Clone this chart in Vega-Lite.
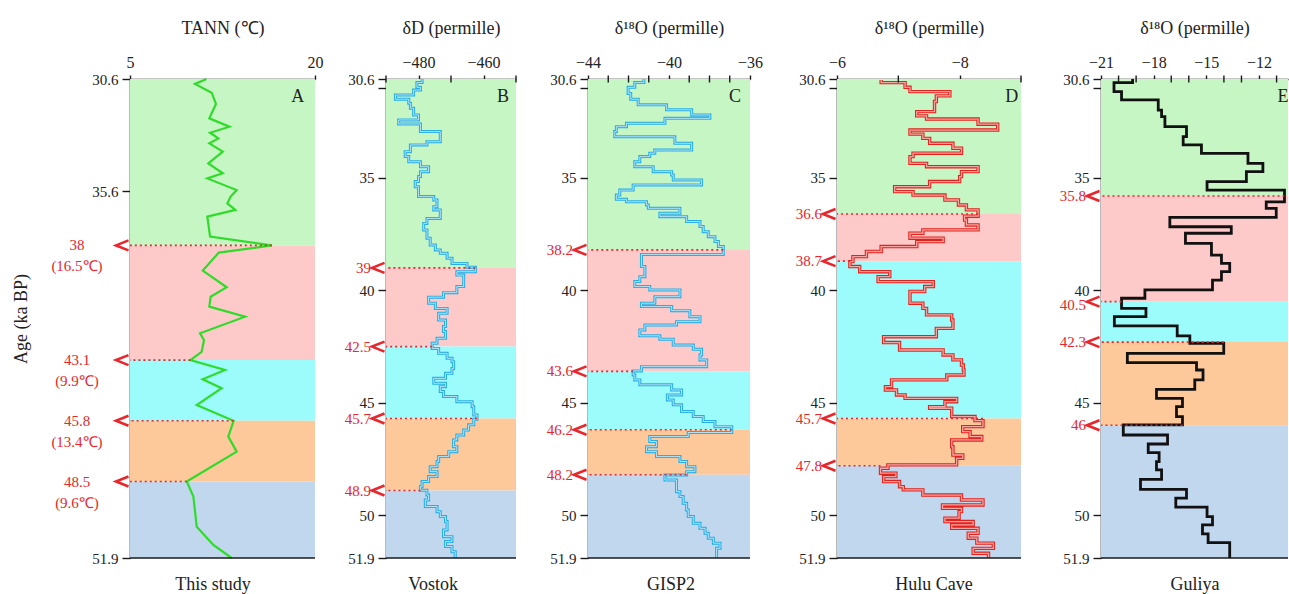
{
"$schema": "https://vega.github.io/schema/vega-lite/v6.json",
"padding": {"left": 12, "top": 19, "right": 0, "bottom": 0},
"background": "white",
"spacing": 0,
"config": {
  "font": "Liberation Serif",
  "view": {"stroke": null},
  "text": {"font": "Liberation Serif"},
  "axis": {"domainColor": "#1a1a1a", "domainWidth": 1.6, "tickColor": "#1a1a1a", "tickWidth": 1.4, "labelFont": "Liberation Serif", "labelFontSize": 16, "labelColor": "#222222", "titleFont": "Liberation Serif", "titleFontSize": 18, "titleFontWeight": "normal", "titleColor": "#222222", "grid": false, "labelFlush": false, "labelOverlap": false, "labelBound": false}
},
"datasets": {
  "bands": [
    {"p":"A","top":30.6,"bot":38,"ph":"g"},{"p":"A","top":38,"bot":43.1,"ph":"p"},{"p":"A","top":43.1,"bot":45.8,"ph":"c"},{"p":"A","top":45.8,"bot":48.5,"ph":"o"},{"p":"A","top":48.5,"bot":51.9,"ph":"b"},
    {"p":"B","top":30.6,"bot":39,"ph":"g"},{"p":"B","top":39,"bot":42.5,"ph":"p"},{"p":"B","top":42.5,"bot":45.7,"ph":"c"},{"p":"B","top":45.7,"bot":48.9,"ph":"o"},{"p":"B","top":48.9,"bot":51.9,"ph":"b"},
    {"p":"C","top":30.6,"bot":38.2,"ph":"g"},{"p":"C","top":38.2,"bot":43.6,"ph":"p"},{"p":"C","top":43.6,"bot":46.2,"ph":"c"},{"p":"C","top":46.2,"bot":48.2,"ph":"o"},{"p":"C","top":48.2,"bot":51.9,"ph":"b"},
    {"p":"D","top":30.6,"bot":36.6,"ph":"g"},{"p":"D","top":36.6,"bot":38.7,"ph":"p"},{"p":"D","top":38.7,"bot":45.7,"ph":"c"},{"p":"D","top":45.7,"bot":47.8,"ph":"o"},{"p":"D","top":47.8,"bot":51.9,"ph":"b"},
    {"p":"E","top":30.6,"bot":35.8,"ph":"g"},{"p":"E","top":35.8,"bot":40.5,"ph":"p"},{"p":"E","top":40.5,"bot":42.3,"ph":"c"},{"p":"E","top":42.3,"bot":46,"ph":"o"},{"p":"E","top":46,"bot":51.9,"ph":"b"}
  ],
  "mt": [
    {"p":"B","t":-490},{"p":"B","t":-470},{"p":"B","t":-450},
    {"p":"C","t":-43},{"p":"C","t":-42},{"p":"C","t":-41},{"p":"C","t":-39},{"p":"C","t":-38},{"p":"C","t":-37},
    {"p":"D","t":-7},{"p":"D","t":-9},
    {"p":"E","t":-20},{"p":"E","t":-19},{"p":"E","t":-17},{"p":"E","t":-16},{"p":"E","t":-14},{"p":"E","t":-13},{"p":"E","t":-11}
  ],
  "bnd": [
    {"p":"A","age":38,"v":16.5,"lab":"38\n(16.5℃)"},{"p":"A","age":43.1,"v":9.9,"lab":"43.1\n(9.9℃)"},{"p":"A","age":45.8,"v":13.4,"lab":"45.8\n(13.4℃)"},{"p":"A","age":48.5,"v":9.6,"lab":"48.5\n(9.6℃)"},
    {"p":"B","age":39,"v":-462.5,"lab":"39"},{"p":"B","age":42.5,"v":-475.8,"lab":"42.5"},{"p":"B","age":45.7,"v":-462.0,"lab":"45.7"},{"p":"B","age":48.9,"v":-479.4,"lab":"48.9"},
    {"p":"C","age":38.2,"v":-37.32,"lab":"38.2"},{"p":"C","age":43.6,"v":-41.77,"lab":"43.6"},{"p":"C","age":46.2,"v":-36.9,"lab":"46.2"},{"p":"C","age":48.2,"v":-39.13,"lab":"48.2"},
    {"p":"D","age":36.6,"v":-8.3,"lab":"36.6"},{"p":"D","age":38.7,"v":-6.21,"lab":"38.7"},{"p":"D","age":45.7,"v":-8.38,"lab":"45.7"},{"p":"D","age":47.8,"v":-6.71,"lab":"47.8"},
    {"p":"E","age":35.8,"v":-10.55,"lab":"35.8"},{"p":"E","age":40.5,"v":-19.83,"lab":"40.5"},{"p":"E","age":42.3,"v":-14.01,"lab":"42.3"},{"p":"E","age":46,"v":-16.36,"lab":"46"}
  ],
  "tann": [
    {"age":30.6,"v":11.2},{"age":30.82,"v":10.27},{"age":31.21,"v":11.62},{"age":31.71,"v":11.97},{"age":32.35,"v":11.43},{"age":32.72,"v":13.06},{"age":32.99,"v":11.49},{"age":33.24,"v":12.16},{"age":33.46,"v":11.43},{"age":33.83,"v":12.52},{"age":34.35,"v":11.35},{"age":34.79,"v":12.52},{"age":35.02,"v":11.27},{"age":35.54,"v":13.65},{"age":35.83,"v":13.16},{"age":36.13,"v":12.89},{"age":36.42,"v":13.54},{"age":36.72,"v":11.27},{"age":37.61,"v":11.49},{"age":38.0,"v":16.5},{"age":38.32,"v":12.2},{"age":39.12,"v":10.9},{"age":39.86,"v":12.84},{"age":40.28,"v":11.54},{"age":40.72,"v":11.43},{"age":41.17,"v":14.33},{"age":41.91,"v":10.68},{"age":42.21,"v":11.0},{"age":42.73,"v":10.81},{"age":43.1,"v":9.9},{"age":43.54,"v":12.7},{"age":43.95,"v":10.89},{"age":44.35,"v":12.43},{"age":45.1,"v":10.41},{"age":45.8,"v":13.4},{"age":46.5,"v":12.97},{"age":47.17,"v":13.65},{"age":48.5,"v":9.6},{"age":49.17,"v":10.14},{"age":50.51,"v":10.41},{"age":51.32,"v":11.76},{"age":51.9,"v":13.24}
  ],
  "vostok": [
    {"age":30.6,"v":-478.9},{"age":30.76,"v":-480.5},{"age":30.97,"v":-479.4},{"age":31.09,"v":-481.5},{"age":31.31,"v":-487.1},{"age":31.5,"v":-483.0},{"age":31.68,"v":-482.5},{"age":31.9,"v":-481.5},{"age":32.2,"v":-480.0},{"age":32.42,"v":-486.1},{"age":32.6,"v":-479.4},{"age":32.94,"v":-473.3},{"age":33.39,"v":-477.4},{"age":33.53,"v":-482.5},{"age":33.83,"v":-484.1},{"age":34.05,"v":-483.0},{"age":34.28,"v":-479.4},{"age":34.5,"v":-476.9},{"age":34.72,"v":-479.4},{"age":34.94,"v":-480.0},{"age":35.16,"v":-481.0},{"age":35.39,"v":-480.0},{"age":35.83,"v":-475.3},{"age":35.98,"v":-474.3},{"age":36.28,"v":-475.3},{"age":36.42,"v":-473.3},{"age":36.8,"v":-477.4},{"age":37.02,"v":-478.4},{"age":37.31,"v":-477.4},{"age":37.68,"v":-476.4},{"age":37.98,"v":-474.8},{"age":38.2,"v":-473.3},{"age":38.35,"v":-471.2},{"age":38.57,"v":-469.7},{"age":38.8,"v":-465.1},{"age":38.97,"v":-462.5},{"age":39.17,"v":-468.2},{"age":39.32,"v":-466.1},{"age":39.83,"v":-468.2},{"age":40.1,"v":-472.3},{"age":40.3,"v":-476.9},{"age":40.57,"v":-474.8},{"age":40.8,"v":-471.2},{"age":41.02,"v":-473.8},{"age":41.32,"v":-471.7},{"age":41.61,"v":-472.3},{"age":41.83,"v":-471.7},{"age":42.13,"v":-474.3},{"age":42.35,"v":-475.8},{"age":42.58,"v":-473.8},{"age":42.8,"v":-471.2},{"age":43.02,"v":-469.7},{"age":43.17,"v":-469.2},{"age":43.47,"v":-469.7},{"age":43.69,"v":-471.7},{"age":43.91,"v":-475.3},{"age":44.13,"v":-471.7},{"age":44.28,"v":-473.3},{"age":44.5,"v":-472.3},{"age":44.72,"v":-468.2},{"age":44.95,"v":-463.5},{"age":45.17,"v":-463.0},{"age":45.54,"v":-462.0},{"age":45.73,"v":-463.0},{"age":45.98,"v":-464.6},{"age":46.21,"v":-466.1},{"age":46.43,"v":-468.2},{"age":46.65,"v":-469.2},{"age":46.95,"v":-468.2},{"age":47.17,"v":-470.7},{"age":47.39,"v":-473.8},{"age":47.61,"v":-474.3},{"age":47.84,"v":-476.4},{"age":48.06,"v":-474.3},{"age":48.28,"v":-476.9},{"age":48.5,"v":-478.9},{"age":48.73,"v":-479.4},{"age":48.89,"v":-477.4},{"age":49.1,"v":-476.9},{"age":49.32,"v":-477.9},{"age":49.61,"v":-474.3},{"age":49.84,"v":-473.3},{"age":50.06,"v":-471.7},{"age":50.28,"v":-471.2},{"age":50.65,"v":-472.3},{"age":50.95,"v":-469.7},{"age":51.17,"v":-471.7},{"age":51.39,"v":-469.7},{"age":51.62,"v":-468.7},{"age":51.9,"v":-468.7}
  ],
  "gisp2": [
    {"age":30.6,"v":-41.24},{"age":30.76,"v":-41.69},{"age":30.97,"v":-42.02},{"age":31.24,"v":-41.89},{"age":31.5,"v":-41.52},{"age":31.75,"v":-40.12},{"age":31.97,"v":-38.88},{"age":32.2,"v":-37.98},{"age":32.35,"v":-40.2},{"age":32.57,"v":-42.1},{"age":32.72,"v":-42.6},{"age":32.94,"v":-42.68},{"age":33.17,"v":-39.71},{"age":33.46,"v":-38.88},{"age":33.76,"v":-40.7},{"age":33.9,"v":-40.95},{"age":34.05,"v":-41.44},{"age":34.28,"v":-41.69},{"age":34.5,"v":-40.78},{"age":34.72,"v":-39.87},{"age":34.87,"v":-39.79},{"age":35.09,"v":-38.39},{"age":35.31,"v":-41.77},{"age":35.54,"v":-42.43},{"age":35.76,"v":-42.6},{"age":35.95,"v":-42.1},{"age":36.06,"v":-41.11},{"age":36.2,"v":-41.02},{"age":36.35,"v":-39.46},{"age":36.57,"v":-40.45},{"age":36.72,"v":-39.13},{"age":36.94,"v":-38.47},{"age":37.16,"v":-38.31},{"age":37.39,"v":-38.06},{"age":37.61,"v":-37.73},{"age":37.83,"v":-37.56},{"age":38.05,"v":-37.32},{"age":38.4,"v":-41.36},{"age":38.94,"v":-41.19},{"age":39.39,"v":-41.44},{"age":39.61,"v":-41.69},{"age":39.83,"v":-40.95},{"age":39.98,"v":-39.46},{"age":40.28,"v":-40.7},{"age":40.57,"v":-41.36},{"age":40.72,"v":-39.87},{"age":40.9,"v":-38.97},{"age":41.17,"v":-38.47},{"age":41.39,"v":-39.63},{"age":41.54,"v":-41.19},{"age":41.76,"v":-41.44},{"age":42.02,"v":-40.45},{"age":42.17,"v":-39.79},{"age":42.43,"v":-38.8},{"age":42.62,"v":-38.39},{"age":42.87,"v":-38.47},{"age":43.09,"v":-38.14},{"age":43.39,"v":-41.36},{"age":43.58,"v":-41.77},{"age":43.76,"v":-41.69},{"age":43.98,"v":-41.44},{"age":44.2,"v":-39.87},{"age":44.43,"v":-39.38},{"age":44.65,"v":-40.08},{"age":44.87,"v":-39.79},{"age":45.09,"v":-39.38},{"age":45.39,"v":-38.8},{"age":45.61,"v":-38.31},{"age":45.83,"v":-37.73},{"age":46.06,"v":-36.9},{"age":46.32,"v":-39.05},{"age":46.5,"v":-40.95},{"age":46.72,"v":-40.62},{"age":46.95,"v":-41.11},{"age":47.17,"v":-40.62},{"age":47.39,"v":-39.46},{"age":47.61,"v":-39.13},{"age":47.84,"v":-38.72},{"age":48.06,"v":-39.13},{"age":48.21,"v":-40.2},{"age":48.43,"v":-39.63},{"age":48.95,"v":-39.46},{"age":49.17,"v":-39.3},{"age":49.47,"v":-39.13},{"age":49.76,"v":-39.05},{"age":50.06,"v":-38.8},{"age":50.36,"v":-38.47},{"age":50.58,"v":-38.22},{"age":50.8,"v":-38.06},{"age":51.02,"v":-37.81},{"age":51.24,"v":-37.48},{"age":51.47,"v":-37.65},{"age":51.9,"v":-37.65}
  ],
  "hulu": [
    {"age":30.65,"v":-6.72},{"age":30.76,"v":-7.11},{"age":30.97,"v":-7.19},{"age":31.16,"v":-7.84},{"age":31.35,"v":-7.62},{"age":31.6,"v":-7.59},{"age":32.05,"v":-7.3},{"age":32.24,"v":-7.46},{"age":32.38,"v":-8.3},{"age":32.61,"v":-8.62},{"age":32.87,"v":-7.19},{"age":33.05,"v":-7.4},{"age":33.24,"v":-7.51},{"age":33.46,"v":-7.89},{"age":33.68,"v":-8.03},{"age":33.9,"v":-7.24},{"age":34.05,"v":-7.19},{"age":34.35,"v":-7.46},{"age":34.5,"v":-8.3},{"age":34.72,"v":-8.03},{"age":34.94,"v":-8.0},{"age":35.16,"v":-7.51},{"age":35.39,"v":-6.94},{"age":35.61,"v":-7.24},{"age":35.76,"v":-7.76},{"age":35.98,"v":-7.98},{"age":36.2,"v":-8.11},{"age":36.42,"v":-8.3},{"age":36.7,"v":-8.08},{"age":36.87,"v":-8.11},{"age":37.09,"v":-8.3},{"age":37.31,"v":-7.4},{"age":37.46,"v":-7.19},{"age":37.68,"v":-7.73},{"age":37.83,"v":-7.3},{"age":38.05,"v":-6.72},{"age":38.27,"v":-6.48},{"age":38.5,"v":-6.26},{"age":38.72,"v":-6.21},{"age":38.94,"v":-6.37},{"age":39.17,"v":-6.86},{"age":39.39,"v":-6.67},{"age":39.61,"v":-7.57},{"age":39.83,"v":-7.43},{"age":40.05,"v":-7.19},{"age":40.57,"v":-7.4},{"age":40.8,"v":-7.46},{"age":41.09,"v":-7.87},{"age":41.32,"v":-7.89},{"age":41.69,"v":-7.62},{"age":42.06,"v":-6.76},{"age":42.32,"v":-7.02},{"age":42.65,"v":-7.73},{"age":42.87,"v":-7.89},{"age":43.09,"v":-8.03},{"age":43.32,"v":-8.06},{"age":43.54,"v":-8.07},{"age":43.76,"v":-7.79},{"age":43.98,"v":-6.89},{"age":44.28,"v":-6.79},{"age":44.43,"v":-6.97},{"age":44.65,"v":-7.11},{"age":44.8,"v":-7.95},{"age":44.95,"v":-7.76},{"age":45.17,"v":-7.51},{"age":45.24,"v":-7.87},{"age":45.61,"v":-8.25},{"age":45.79,"v":-8.38},{"age":46.06,"v":-8.05},{"age":46.28,"v":-8.17},{"age":46.5,"v":-8.36},{"age":46.65,"v":-7.87},{"age":46.95,"v":-7.89},{"age":47.32,"v":-8.05},{"age":47.47,"v":-7.95},{"age":47.76,"v":-6.83},{"age":47.91,"v":-6.71},{"age":48.13,"v":-6.96},{"age":48.28,"v":-6.76},{"age":48.5,"v":-7.02},{"age":48.73,"v":-7.08},{"age":48.87,"v":-7.4},{"age":49.1,"v":-8.03},{"age":49.32,"v":-8.38},{"age":49.54,"v":-7.72},{"age":49.69,"v":-8.03},{"age":49.84,"v":-7.99},{"age":50.13,"v":-7.76},{"age":50.28,"v":-8.22},{"age":50.43,"v":-7.87},{"age":50.58,"v":-8.3},{"age":50.8,"v":-8.14},{"age":51.02,"v":-8.28},{"age":51.24,"v":-8.55},{"age":51.47,"v":-8.22},{"age":51.69,"v":-8.47},{"age":51.9,"v":-8.47}
  ],
  "guliya": [
    {"age":30.6,"v":-19.2},{"age":30.76,"v":-20.26},{"age":31.16,"v":-19.83},{"age":31.53,"v":-17.74},{"age":31.98,"v":-17.55},{"age":32.27,"v":-17.36},{"age":32.72,"v":-16.13},{"age":33.16,"v":-16.32},{"age":33.53,"v":-15.28},{"age":33.91,"v":-12.63},{"age":34.35,"v":-11.78},{"age":34.72,"v":-12.72},{"age":35.16,"v":-14.96},{"age":35.54,"v":-10.55},{"age":36.06,"v":-11.59},{"age":36.35,"v":-11.02},{"age":36.75,"v":-17.08},{"age":37.17,"v":-13.58},{"age":37.46,"v":-16.19},{"age":37.91,"v":-14.71},{"age":38.43,"v":-14.14},{"age":38.8,"v":-13.67},{"age":39.17,"v":-14.14},{"age":39.54,"v":-14.65},{"age":39.98,"v":-18.5},{"age":40.35,"v":-19.83},{"age":40.8,"v":-18.44},{"age":41.17,"v":-20.24},{"age":41.58,"v":-16.66},{"age":42.02,"v":-15.94},{"age":42.35,"v":-14.01},{"age":42.8,"v":-19.5},{"age":43.21,"v":-15.56},{"age":43.54,"v":-15.19},{"age":43.98,"v":-15.66},{"age":44.4,"v":-17.84},{"age":44.8,"v":-16.36},{"age":45.17,"v":-16.7},{"age":45.61,"v":-16.36},{"age":45.98,"v":-19.73},{"age":46.43,"v":-17.21},{"age":46.83,"v":-18.31},{"age":47.21,"v":-17.69},{"age":47.61,"v":-17.84},{"age":47.98,"v":-17.55},{"age":48.4,"v":-18.75},{"age":48.85,"v":-16.13},{"age":49.24,"v":-16.74},{"age":49.64,"v":-14.96},{"age":50.06,"v":-14.65},{"age":50.43,"v":-15.22},{"age":50.83,"v":-14.9},{"age":51.22,"v":-13.67},{"age":51.9,"v":-13.67}
  ]
},
"hconcat": [
{
 "width": 185, "height": 479,
 "layer": [
  {"data": {"name": "bands"}, "transform": [{"filter": "datum.p == 'A'"}], "mark": {"type": "rect"},
   "encoding": {
     "y": {"field": "top", "type": "quantitative", "scale": {"domain": [30.6, 51.9], "reverse": true, "nice": false, "zero": false},
       "axis": {"orient": "left", "values": [30.6, 35.6, 51.9], "labelExpr": "toString(datum.value)", "labelOverlap": false, "labelFontSize": 15, "tickSize": 8, "labelPadding": 4, "minExtent": 90, "title": "Age (ka BP)", "titlePadding": 10}},
     "y2": {"field": "bot"},
     "color": {"field": "ph", "type": "nominal", "scale": {"domain": ["g","p","c","o","b"], "range": ["#c7f6c5","#fec9c9","#9cfcfb","#fdc99b","#c0d7ee"]}, "legend": null}}},
  {"data": {"name": "tann"}, "mark": {"type": "line", "color": "#2fdc2a", "strokeWidth": 2.2},
   "encoding": {"x": {"field": "v", "type": "quantitative", "scale": {"domain": [5, 20], "nice": false, "zero": false},
       "axis": {"orient": "top", "values": [5, 20], "labelExpr": "format(datum.value, 'd')", "labelOverlap": false, "tickSize": 4, "labelPadding": 5, "title": "TANN (℃)", "titlePadding": 17}},
     "y": {"field": "age", "type": "quantitative"}, "order": {"field": "age", "type": "quantitative"}}},
  {"data": {"name": "bnd"}, "transform": [{"filter": "datum.p == 'A'"}], "mark": {"type": "rule", "color": "#e8262b", "strokeWidth": 1.6, "strokeDash": [2, 3]},
   "encoding": {"x": {"field": "v", "type": "quantitative"}, "x2": {"datum": 5}, "y": {"field": "age", "type": "quantitative"}}},
  {"data": {"name": "bnd"}, "transform": [{"filter": "datum.p == 'A'"}], "mark": {"type": "point", "shape": "M -0.3 -1 L -2.8 0 L -0.3 1", "filled": false, "size": 100, "strokeWidth": 2.6, "color": "#e8262b", "opacity": 1},
   "encoding": {"x": {"datum": 5, "type": "quantitative"}, "y": {"field": "age", "type": "quantitative"}}},
  {"data": {"name": "bnd"}, "transform": [{"filter": "datum.p == 'A'"}], "mark": {"type": "text", "align": "center", "baseline": "middle", "dx": -53, "lineBreak": "\n", "lineHeight": 21, "fontSize": 15, "color": "#e8262b"},
   "encoding": {"x": {"datum": 5, "type": "quantitative"}, "y": {"field": "age", "type": "quantitative"}, "text": {"field": "lab", "type": "nominal"}}},
  {"data": {"values": [{"t": "A"}]}, "mark": {"type": "text", "fontSize": 18, "color": "#222222"},
   "encoding": {"x": {"datum": 18.6, "type": "quantitative"}, "y": {"datum": 31.4, "type": "quantitative"}, "text": {"field": "t", "type": "nominal"}}},
  {"data": {"values": [{"t": ""}]}, "mark": {"type": "rule", "color": "#1a1a1a", "strokeWidth": 1.6},
   "encoding": {"y": {"datum": 51.9, "type": "quantitative"}}},
  {"data": {"values": [{"t": "This study"}]}, "mark": {"type": "text", "fontSize": 18, "dy": 27, "baseline": "middle", "color": "#222222"},
   "encoding": {"x": {"datum": 11.73, "type": "quantitative"}, "y": {"datum": 51.9, "type": "quantitative"}, "text": {"field": "t", "type": "nominal"}}}
 ]
},
{
 "width": 130, "height": 479,
 "layer": [
  {"data": {"name": "bands"}, "transform": [{"filter": "datum.p == 'B'"}], "mark": {"type": "rect"},
   "encoding": {
     "y": {"field": "top", "type": "quantitative", "scale": {"domain": [30.6, 51.9], "reverse": true, "nice": false, "zero": false},
       "axis": {"orient": "left", "values": [30.6, 31, 35, 40, 45, 50, 51.9], "labelExpr": "datum.value == 31 ? '' : toString(datum.value)", "labelOverlap": false, "labelFontSize": 15, "tickSize": 8, "labelPadding": 4, "minExtent": 63, "title": null}},
     "y2": {"field": "bot"},
     "color": {"field": "ph", "type": "nominal", "scale": {"domain": ["g","p","c","o","b"], "range": ["#c7f6c5","#fec9c9","#9cfcfb","#fdc99b","#c0d7ee"]}, "legend": null}}},
  {"data": {"name": "vostok"}, "mark": {"type": "line", "interpolate": "step-before", "color": "#27aee6", "strokeWidth": 3.0},
   "encoding": {"x": {"field": "v", "type": "quantitative", "scale": {"domain": [-490, -450], "nice": false, "zero": false},
       "axis": {"orient": "top", "values": [-480, -460], "labelExpr": "format(datum.value, 'd')", "labelOverlap": false, "tickSize": 4, "labelPadding": 5, "title": "δD (permille)", "titlePadding": 17}},
     "y": {"field": "age", "type": "quantitative"}, "order": {"field": "age", "type": "quantitative"}}},
  {"data": {"name": "vostok"}, "mark": {"type": "line", "interpolate": "step-before", "color": "#ffffff", "opacity": 0.65, "strokeWidth": 1.0},
   "encoding": {"x": {"field": "v", "type": "quantitative"}, "y": {"field": "age", "type": "quantitative"}, "order": {"field": "age", "type": "quantitative"}}},
  {"data": {"name": "mt"}, "transform": [{"filter": "datum.p == 'B'"}], "mark": {"type": "tick", "orient": "vertical", "size": 7, "thickness": 1.4, "color": "#1a1a1a", "opacity": 1},
   "encoding": {"x": {"field": "t", "type": "quantitative"}, "y": {"datum": 30.6, "type": "quantitative"}}},
  {"data": {"name": "bnd"}, "transform": [{"filter": "datum.p == 'B'"}], "mark": {"type": "rule", "color": "#e8262b", "strokeWidth": 1.6, "strokeDash": [2, 3]},
   "encoding": {"x": {"field": "v", "type": "quantitative"}, "x2": {"datum": -490}, "y": {"field": "age", "type": "quantitative"}}},
  {"data": {"name": "bnd"}, "transform": [{"filter": "datum.p == 'B'"}], "mark": {"type": "point", "shape": "M -0.3 -1 L -2.8 0 L -0.3 1", "filled": false, "size": 100, "strokeWidth": 2.6, "color": "#e8262b", "opacity": 1},
   "encoding": {"x": {"datum": -490, "type": "quantitative"}, "y": {"field": "age", "type": "quantitative"}}},
  {"data": {"name": "bnd"}, "transform": [{"filter": "datum.p == 'B'"}], "mark": {"type": "text", "align": "right", "baseline": "middle", "dx": -15, "fontSize": 15, "color": "#e8262b"},
   "encoding": {"x": {"datum": -490, "type": "quantitative"}, "y": {"field": "age", "type": "quantitative"}, "text": {"field": "lab", "type": "nominal"}}},
  {"data": {"values": [{"t": "B"}]}, "mark": {"type": "text", "fontSize": 18, "color": "#222222"},
   "encoding": {"x": {"datum": -454, "type": "quantitative"}, "y": {"datum": 31.4, "type": "quantitative"}, "text": {"field": "t", "type": "nominal"}}},
  {"data": {"values": [{"t": ""}]}, "mark": {"type": "rule", "color": "#1a1a1a", "strokeWidth": 1.6},
   "encoding": {"y": {"datum": 51.9, "type": "quantitative"}}},
  {"data": {"values": [{"t": "Vostok"}]}, "mark": {"type": "text", "fontSize": 18, "dy": 27, "baseline": "middle", "color": "#222222"},
   "encoding": {"x": {"datum": -475.5, "type": "quantitative"}, "y": {"datum": 51.9, "type": "quantitative"}, "text": {"field": "t", "type": "nominal"}}}
 ]
},
{
 "width": 162, "height": 479,
 "layer": [
  {"data": {"name": "bands"}, "transform": [{"filter": "datum.p == 'C'"}], "mark": {"type": "rect"},
   "encoding": {
     "y": {"field": "top", "type": "quantitative", "scale": {"domain": [30.6, 51.9], "reverse": true, "nice": false, "zero": false},
       "axis": {"orient": "left", "values": [30.6, 31, 35, 40, 45, 50, 51.9], "labelExpr": "datum.value == 31 ? '' : toString(datum.value)", "labelOverlap": false, "labelFontSize": 15, "tickSize": 8, "labelPadding": 4, "minExtent": 71, "title": null}},
     "y2": {"field": "bot"},
     "color": {"field": "ph", "type": "nominal", "scale": {"domain": ["g","p","c","o","b"], "range": ["#c7f6c5","#fec9c9","#9cfcfb","#fdc99b","#c0d7ee"]}, "legend": null}}},
  {"data": {"name": "gisp2"}, "mark": {"type": "line", "interpolate": "step-before", "color": "#27aee6", "strokeWidth": 3.0},
   "encoding": {"x": {"field": "v", "type": "quantitative", "scale": {"domain": [-44, -36], "nice": false, "zero": false},
       "axis": {"orient": "top", "values": [-44, -40, -36], "labelExpr": "format(datum.value, 'd')", "labelOverlap": false, "tickSize": 4, "labelPadding": 5, "title": "δ¹⁸O (permille)", "titlePadding": 17}},
     "y": {"field": "age", "type": "quantitative"}, "order": {"field": "age", "type": "quantitative"}}},
  {"data": {"name": "gisp2"}, "mark": {"type": "line", "interpolate": "step-before", "color": "#ffffff", "opacity": 0.65, "strokeWidth": 1.0},
   "encoding": {"x": {"field": "v", "type": "quantitative"}, "y": {"field": "age", "type": "quantitative"}, "order": {"field": "age", "type": "quantitative"}}},
  {"data": {"name": "mt"}, "transform": [{"filter": "datum.p == 'C'"}], "mark": {"type": "tick", "orient": "vertical", "size": 7, "thickness": 1.4, "color": "#1a1a1a", "opacity": 1},
   "encoding": {"x": {"field": "t", "type": "quantitative"}, "y": {"datum": 30.6, "type": "quantitative"}}},
  {"data": {"name": "bnd"}, "transform": [{"filter": "datum.p == 'C'"}], "mark": {"type": "rule", "color": "#e8262b", "strokeWidth": 1.6, "strokeDash": [2, 3]},
   "encoding": {"x": {"field": "v", "type": "quantitative"}, "x2": {"datum": -44}, "y": {"field": "age", "type": "quantitative"}}},
  {"data": {"name": "bnd"}, "transform": [{"filter": "datum.p == 'C'"}], "mark": {"type": "point", "shape": "M -0.3 -1 L -2.8 0 L -0.3 1", "filled": false, "size": 100, "strokeWidth": 2.6, "color": "#e8262b", "opacity": 1},
   "encoding": {"x": {"datum": -44, "type": "quantitative"}, "y": {"field": "age", "type": "quantitative"}}},
  {"data": {"name": "bnd"}, "transform": [{"filter": "datum.p == 'C'"}], "mark": {"type": "text", "align": "right", "baseline": "middle", "dx": -15, "fontSize": 15, "color": "#e8262b"},
   "encoding": {"x": {"datum": -44, "type": "quantitative"}, "y": {"field": "age", "type": "quantitative"}, "text": {"field": "lab", "type": "nominal"}}},
  {"data": {"values": [{"t": "C"}]}, "mark": {"type": "text", "fontSize": 18, "color": "#222222"},
   "encoding": {"x": {"datum": -36.74, "type": "quantitative"}, "y": {"datum": 31.4, "type": "quantitative"}, "text": {"field": "t", "type": "nominal"}}},
  {"data": {"values": [{"t": ""}]}, "mark": {"type": "rule", "color": "#1a1a1a", "strokeWidth": 1.6},
   "encoding": {"y": {"datum": 51.9, "type": "quantitative"}}},
  {"data": {"values": [{"t": "GISP2"}]}, "mark": {"type": "text", "fontSize": 18, "dy": 27, "baseline": "middle", "color": "#222222"},
   "encoding": {"x": {"datum": -39.9, "type": "quantitative"}, "y": {"datum": 51.9, "type": "quantitative"}, "text": {"field": "t", "type": "nominal"}}}
 ]
},
{
 "width": 184, "height": 479,
 "layer": [
  {"data": {"name": "bands"}, "transform": [{"filter": "datum.p == 'D'"}], "mark": {"type": "rect"},
   "encoding": {
     "y": {"field": "top", "type": "quantitative", "scale": {"domain": [30.6, 51.9], "reverse": true, "nice": false, "zero": false},
       "axis": {"orient": "left", "values": [30.6, 31, 35, 40, 45, 50, 51.9], "labelExpr": "datum.value == 31 ? '' : toString(datum.value)", "labelOverlap": false, "labelFontSize": 15, "tickSize": 8, "labelPadding": 4, "minExtent": 74, "title": null}},
     "y2": {"field": "bot"},
     "color": {"field": "ph", "type": "nominal", "scale": {"domain": ["g","p","c","o","b"], "range": ["#c7f6c5","#fec9c9","#9cfcfb","#fdc99b","#c0d7ee"]}, "legend": null}}},
  {"data": {"name": "hulu"}, "mark": {"type": "line", "interpolate": "step-before", "color": "#e3221c", "strokeWidth": 3.4},
   "encoding": {"x": {"field": "v", "type": "quantitative", "scale": {"domain": [-6, -9], "nice": false, "zero": false},
       "axis": {"orient": "top", "values": [-6, -8], "labelExpr": "format(datum.value, 'd')", "labelOverlap": false, "tickSize": 4, "labelPadding": 5, "title": "δ¹⁸O (permille)", "titlePadding": 17}},
     "y": {"field": "age", "type": "quantitative"}, "order": {"field": "age", "type": "quantitative"}}},
  {"data": {"name": "hulu"}, "mark": {"type": "line", "interpolate": "step-before", "color": "#ffffff", "opacity": 0.6, "strokeWidth": 1.3},
   "encoding": {"x": {"field": "v", "type": "quantitative"}, "y": {"field": "age", "type": "quantitative"}, "order": {"field": "age", "type": "quantitative"}}},
  {"data": {"name": "mt"}, "transform": [{"filter": "datum.p == 'D'"}], "mark": {"type": "tick", "orient": "vertical", "size": 7, "thickness": 1.4, "color": "#1a1a1a", "opacity": 1},
   "encoding": {"x": {"field": "t", "type": "quantitative"}, "y": {"datum": 30.6, "type": "quantitative"}}},
  {"data": {"name": "bnd"}, "transform": [{"filter": "datum.p == 'D'"}], "mark": {"type": "rule", "color": "#e8262b", "strokeWidth": 1.6, "strokeDash": [2, 3]},
   "encoding": {"x": {"field": "v", "type": "quantitative"}, "x2": {"datum": -6}, "y": {"field": "age", "type": "quantitative"}}},
  {"data": {"name": "bnd"}, "transform": [{"filter": "datum.p == 'D'"}], "mark": {"type": "point", "shape": "M -0.3 -1 L -2.8 0 L -0.3 1", "filled": false, "size": 100, "strokeWidth": 2.6, "color": "#e8262b", "opacity": 1},
   "encoding": {"x": {"datum": -6, "type": "quantitative"}, "y": {"field": "age", "type": "quantitative"}}},
  {"data": {"name": "bnd"}, "transform": [{"filter": "datum.p == 'D'"}], "mark": {"type": "text", "align": "right", "baseline": "middle", "dx": -15, "fontSize": 15, "color": "#e8262b"},
   "encoding": {"x": {"datum": -6, "type": "quantitative"}, "y": {"field": "age", "type": "quantitative"}, "text": {"field": "lab", "type": "nominal"}}},
  {"data": {"values": [{"t": "D"}]}, "mark": {"type": "text", "fontSize": 18, "color": "#222222"},
   "encoding": {"x": {"datum": -8.85, "type": "quantitative"}, "y": {"datum": 31.4, "type": "quantitative"}, "text": {"field": "t", "type": "nominal"}}},
  {"data": {"values": [{"t": ""}]}, "mark": {"type": "rule", "color": "#1a1a1a", "strokeWidth": 1.6},
   "encoding": {"y": {"datum": 51.9, "type": "quantitative"}}},
  {"data": {"values": [{"t": "Hulu Cave"}]}, "mark": {"type": "text", "fontSize": 18, "dy": 27, "baseline": "middle", "color": "#222222"},
   "encoding": {"x": {"datum": -7.58, "type": "quantitative"}, "y": {"datum": 51.9, "type": "quantitative"}, "text": {"field": "t", "type": "nominal"}}}
 ]
},
{
 "width": 187, "height": 479,
 "layer": [
  {"data": {"name": "bands"}, "transform": [{"filter": "datum.p == 'E'"}], "mark": {"type": "rect"},
   "encoding": {
     "y": {"field": "top", "type": "quantitative", "scale": {"domain": [30.6, 51.9], "reverse": true, "nice": false, "zero": false},
       "axis": {"orient": "left", "values": [30.6, 31, 35, 40, 45, 50, 51.9], "labelExpr": "datum.value == 31 ? '' : toString(datum.value)", "labelOverlap": false, "labelFontSize": 15, "tickSize": 8, "labelPadding": 4, "minExtent": 79, "title": null}},
     "y2": {"field": "bot"},
     "color": {"field": "ph", "type": "nominal", "scale": {"domain": ["g","p","c","o","b"], "range": ["#c7f6c5","#fec9c9","#9cfcfb","#fdc99b","#c0d7ee"]}, "legend": null}}},
  {"data": {"name": "guliya"}, "mark": {"type": "line", "interpolate": "step-before", "color": "#111111", "strokeWidth": 2.8},
   "encoding": {"x": {"field": "v", "type": "quantitative", "scale": {"domain": [-21, -10.35], "nice": false, "zero": false},
       "axis": {"orient": "top", "values": [-21, -18, -15, -12], "labelExpr": "format(datum.value, 'd')", "labelOverlap": false, "tickSize": 4, "labelPadding": 5, "title": "δ¹⁸O (permille)", "titlePadding": 17}},
     "y": {"field": "age", "type": "quantitative"}, "order": {"field": "age", "type": "quantitative"}}},
  {"data": {"name": "mt"}, "transform": [{"filter": "datum.p == 'E'"}], "mark": {"type": "tick", "orient": "vertical", "size": 7, "thickness": 1.4, "color": "#1a1a1a", "opacity": 1},
   "encoding": {"x": {"field": "t", "type": "quantitative"}, "y": {"datum": 30.6, "type": "quantitative"}}},
  {"data": {"name": "bnd"}, "transform": [{"filter": "datum.p == 'E'"}], "mark": {"type": "rule", "color": "#e8262b", "strokeWidth": 1.6, "strokeDash": [2, 3]},
   "encoding": {"x": {"field": "v", "type": "quantitative"}, "x2": {"datum": -21}, "y": {"field": "age", "type": "quantitative"}}},
  {"data": {"name": "bnd"}, "transform": [{"filter": "datum.p == 'E'"}], "mark": {"type": "point", "shape": "M -0.3 -1 L -2.8 0 L -0.3 1", "filled": false, "size": 100, "strokeWidth": 2.6, "color": "#e8262b", "opacity": 1},
   "encoding": {"x": {"datum": -21, "type": "quantitative"}, "y": {"field": "age", "type": "quantitative"}}},
  {"data": {"name": "bnd"}, "transform": [{"filter": "datum.p == 'E' && datum.age != 40.5"}], "mark": {"type": "text", "align": "right", "baseline": "middle", "dx": -15, "fontSize": 15, "color": "#e8262b"},
   "encoding": {"x": {"datum": -21, "type": "quantitative"}, "y": {"field": "age", "type": "quantitative"}, "text": {"field": "lab", "type": "nominal"}}},
  {"data": {"name": "bnd"}, "transform": [{"filter": "datum.p == 'E' && datum.age == 40.5"}], "mark": {"type": "text", "align": "right", "baseline": "middle", "dx": -15, "dy": 3, "fontSize": 15, "color": "#e8262b"},
   "encoding": {"x": {"datum": -21, "type": "quantitative"}, "y": {"field": "age", "type": "quantitative"}, "text": {"field": "lab", "type": "nominal"}}},
  {"data": {"values": [{"t": "E"}]}, "mark": {"type": "text", "fontSize": 18, "color": "#222222", "clip": true},
   "encoding": {"x": {"datum": -10.64, "type": "quantitative"}, "y": {"datum": 31.4, "type": "quantitative"}, "text": {"field": "t", "type": "nominal"}}},
  {"data": {"values": [{"t": ""}]}, "mark": {"type": "rule", "color": "#1a1a1a", "strokeWidth": 1.6},
   "encoding": {"y": {"datum": 51.9, "type": "quantitative"}}},
  {"data": {"values": [{"t": "Guliya"}]}, "mark": {"type": "text", "fontSize": 18, "dy": 27, "baseline": "middle", "color": "#222222"},
   "encoding": {"x": {"datum": -15.65, "type": "quantitative"}, "y": {"datum": 51.9, "type": "quantitative"}, "text": {"field": "t", "type": "nominal"}}}
 ]
}
]
}
